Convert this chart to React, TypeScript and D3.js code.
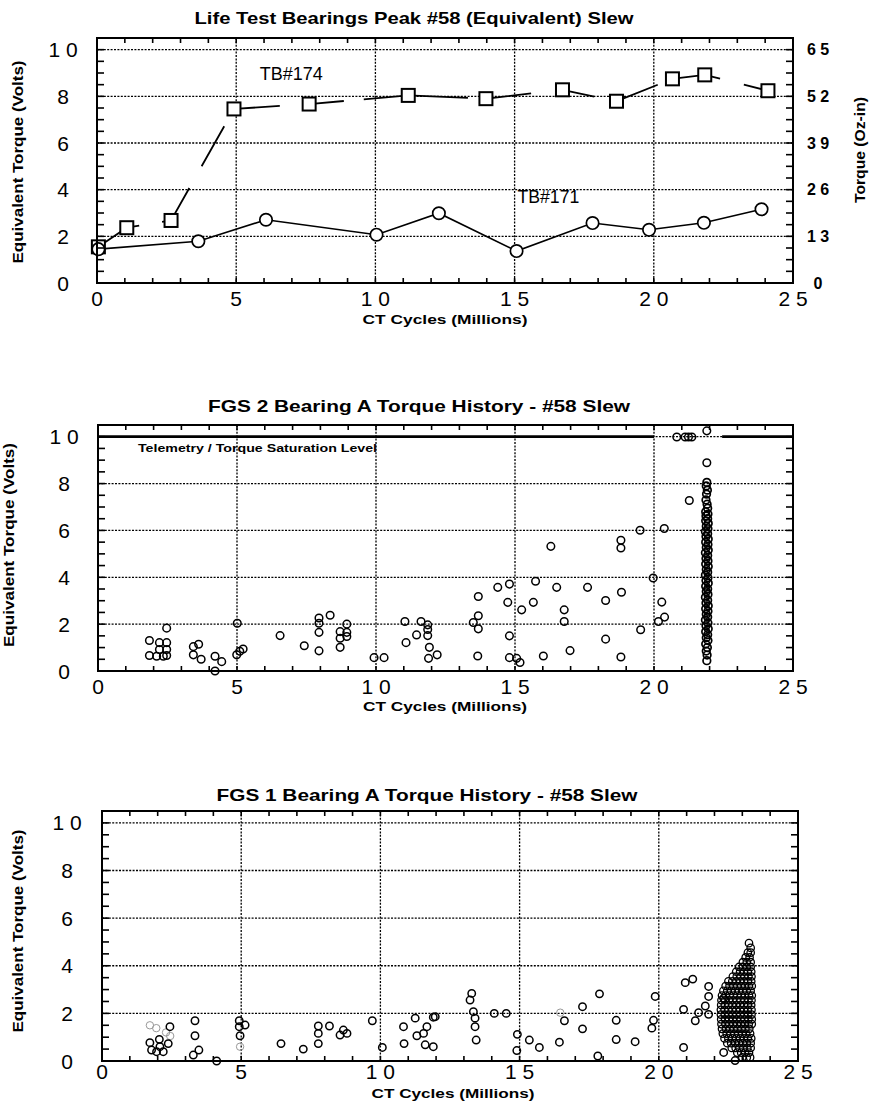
import { useEffect, useRef } from "react";
import { line, range, scaleLinear, select } from "d3";

const FONT = "'Liberation Sans', Arial, Helvetica, sans-serif";

// shared axes
const cycleTicks = [0, 5, 10, 15, 20, 25];
const cycleTickLabels = ["0", "5", "1 0", "1 5", "2 0", "2 5"];
const voltTicks = [0, 2, 4, 6, 8, 10];
const voltTickLabels = ["0", "2", "4", "6", "8", "1 0"];
const ozTickLabels = ["0", "1 3", "2 6", "3 9", "5 2", "6 5"];

// life test bearings (top)
const tb174Cycles = [0.05, 1.07, 2.66, 4.92, 7.62, 11.18, 13.97, 16.72, 18.66, 20.67, 21.83, 24.1];
const tb174Volts = [1.55, 2.37, 2.68, 7.46, 7.67, 8.04, 7.9, 8.28, 7.79, 8.75, 8.92, 8.24];
const tb171Cycles = [0.05, 3.64, 6.07, 10.04, 12.28, 15.07, 17.8, 19.83, 21.8, 23.87];
const tb171Volts = [1.45, 1.79, 2.71, 2.07, 2.99, 1.37, 2.57, 2.28, 2.58, 3.16];

// FGS 2 (middle)
const fgs2Cycles = [
  1.85, 1.85, 2.21, 2.47, 2.21, 2.47, 2.11, 2.35, 2.47, 2.47,
  3.43, 3.62, 3.43, 3.71, 4.21, 4.21, 4.45,
  5.01, 4.99, 5.22, 5.1,
  6.55, 7.42, 7.95, 7.95, 7.95, 7.95, 8.35, 8.71, 8.95, 8.95, 8.71, 8.71, 8.95,
  9.93, 10.29, 11.04, 11.08, 11.46, 11.62, 11.86, 11.86, 11.86, 11.92, 11.89, 12.2,
  13.68, 13.68, 13.5, 13.68, 13.66,
  14.38, 14.8, 14.74, 14.8, 14.8, 15.06, 15.18, 15.24, 15.66, 15.74,
  16.29, 16.5, 16.02, 16.77, 16.77, 16.98, 17.61, 18.26, 18.26,
  18.81, 18.81, 18.83, 18.81, 19.5, 19.52, 19.97, 20.37, 20.28, 20.16, 20.38,
  20.82, 21.12, 21.24, 21.36, 21.27, 21.9, 21.9,
];
const fgs2Volts = [
  1.3, 0.66, 1.21, 1.21, 0.92, 0.92, 0.63, 0.63, 1.83, 0.66,
  1.04, 1.14, 0.69, 0.5, 0.63, 0.0, 0.4,
  2.04, 0.69, 0.94, 0.84,
  1.51, 1.08, 2.26, 2.04, 1.65, 0.86, 2.38, 1.68, 2.0, 1.65, 1.4, 1.01, 1.47,
  0.57, 0.57, 2.11, 1.21, 1.54, 2.11, 1.97, 1.77, 1.51, 1.01, 0.54, 0.69,
  3.18, 2.36, 2.07, 1.8, 0.64,
  3.57, 3.71, 2.93, 1.5, 0.57, 0.54, 0.36, 2.61, 2.93, 3.83,
  5.32, 3.57, 0.64, 2.61, 2.11, 0.87, 3.57, 3.01, 1.36,
  5.58, 5.25, 3.36, 0.6, 6.01, 1.76, 3.97, 6.08, 2.94, 2.11, 2.3,
  9.99, 9.99, 9.99, 9.99, 7.28, 10.25, 8.89,
];
// readings piled up at ~21.9 M cycles
const fgs2ColumnCycles = [
  21.9, 21.88, 21.92, 21.89, 21.87, 21.91, 21.93, 21.86, 21.94, 21.87,
  21.93, 21.86, 21.95, 21.88, 21.94, 21.85, 21.93, 21.87, 21.95, 21.86,
  21.94, 21.88, 21.95, 21.85, 21.93, 21.87, 21.94, 21.86, 21.95, 21.88,
  21.93, 21.85, 21.94, 21.87, 21.95, 21.86, 21.93, 21.88, 21.94, 21.85,
  21.93, 21.87, 21.95, 21.86, 21.94, 21.88, 21.93, 21.85, 21.94, 21.87,
  21.95, 21.86, 21.93, 21.88, 21.94, 21.86, 21.92, 21.88, 21.91, 21.9,
];
const fgs2ColumnVolts = [
  8.05, 7.9, 7.72, 7.55, 7.3, 7.12, 6.95, 6.8, 6.7, 6.62,
  6.5, 6.41, 6.3, 6.18, 6.07, 5.95, 5.86, 5.74, 5.63, 5.5,
  5.4, 5.27, 5.16, 5.05, 4.93, 4.8, 4.7, 4.57, 4.46, 4.33,
  4.22, 4.1, 3.98, 3.86, 3.75, 3.62, 3.5, 3.39, 3.27, 3.15,
  3.02, 2.9, 2.78, 2.66, 2.55, 2.42, 2.3, 2.18, 2.05, 1.93,
  1.8, 1.68, 1.55, 1.42, 1.3, 1.15, 1.0, 0.85, 0.68, 0.44,
];
const saturationVolts = 10;
const saturationRuns = [[0, 20], [22.45, 25]];

// FGS 1 (bottom)
const fgs1Cycles = [
  1.72, 1.78, 1.96, 2.06, 2.08, 2.2, 2.38, 2.44,
  3.34, 3.34, 3.28, 3.48, 4.12,
  4.93, 4.93, 5.14, 4.96,
  6.43, 7.23, 7.77, 7.77, 7.77, 8.17, 8.55, 8.67, 8.8,
  9.71, 10.07, 10.83, 10.85, 11.25, 11.31, 11.55, 11.61, 11.9, 11.9, 11.67, 11.97,
  13.28, 13.22, 13.34, 13.4, 13.4, 13.44, 14.09, 14.52, 14.92, 14.9, 15.35, 15.71,
  16.43, 16.61, 17.26, 17.26, 17.87, 17.81, 18.47, 18.47, 19.15, 19.87, 19.81, 19.75,
  20.89, 20.89, 20.95, 21.22, 21.31, 21.43, 21.67, 21.79, 21.79, 21.79, 22.33, 22.33, 22.74,
];
const fgs1Volts = [
  0.77, 0.46, 0.39, 0.91, 0.6, 0.39, 0.73, 1.44,
  1.69, 1.06, 0.25, 0.46, 0.0,
  1.69, 1.44, 1.51, 1.06,
  0.73, 0.5, 1.47, 1.16, 0.73, 1.47, 1.09, 1.3, 1.16,
  1.69, 0.57, 1.44, 0.73, 1.8, 1.06, 1.16, 0.68, 0.6, 1.84, 1.44, 1.86,
  2.84, 2.56, 2.07, 1.8, 1.44, 0.88, 2.0, 2.0, 1.12, 0.44, 0.88, 0.57,
  0.79, 1.69, 2.28, 1.35, 2.82, 0.21, 1.71, 0.9, 0.81, 2.71, 1.71, 1.38,
  2.17, 0.57, 3.29, 3.44, 1.69, 2.03, 2.31, 3.13, 2.71, 1.96, 2.64, 0.36, 0.02,
];
const fgs1FaintCycles = [1.72, 1.95, 2.3, 2.45, 4.96, 16.46];
const fgs1FaintVolts = [1.5, 1.38, 1.2, 1.05, 0.6, 2.03];
// dense cloud near 22-23 M cycles, one row per torque level
const fgs1ClusterRows: [number, number[]][] = [
  [4.95, [23.24]],
  [4.75, [23.3]],
  [4.55, [23.2, 23.3]],
  [4.35, [23.12, 23.26]],
  [4.15, [23.02, 23.16, 23.3]],
  [3.95, [22.88, 23.02, 23.16, 23.3]],
  [3.75, [22.78, 22.92, 23.06, 23.2, 23.32]],
  [3.55, [22.66, 22.8, 22.94, 23.08, 23.22, 23.33]],
  [3.35, [22.5, 22.64, 22.78, 22.92, 23.06, 23.2, 23.32]],
  [3.15, [22.4, 22.54, 22.68, 22.82, 22.96, 23.1, 23.24, 23.34]],
  [2.95, [22.32, 22.46, 22.6, 22.74, 22.88, 23.02, 23.16, 23.3]],
  [2.75, [22.27, 22.4, 22.54, 22.68, 22.82, 22.96, 23.1, 23.24, 23.34]],
  [2.55, [22.25, 22.38, 22.52, 22.66, 22.8, 22.94, 23.08, 23.22, 23.33]],
  [2.35, [22.24, 22.37, 22.5, 22.64, 22.78, 22.92, 23.06, 23.2, 23.32]],
  [2.15, [22.23, 22.36, 22.5, 22.64, 22.78, 22.92, 23.06, 23.2, 23.33]],
  [1.95, [22.23, 22.37, 22.51, 22.65, 22.79, 22.93, 23.07, 23.21, 23.33]],
  [1.75, [22.24, 22.38, 22.52, 22.66, 22.8, 22.94, 23.08, 23.22, 23.34]],
  [1.55, [22.25, 22.39, 22.53, 22.67, 22.81, 22.95, 23.09, 23.23, 23.34]],
  [1.35, [22.27, 22.41, 22.55, 22.69, 22.83, 22.97, 23.11, 23.25]],
  [1.15, [22.3, 22.44, 22.58, 22.72, 22.86, 23.0, 23.14, 23.28]],
  [0.95, [22.36, 22.5, 22.64, 22.78, 22.92, 23.06, 23.2, 23.32]],
  [0.75, [22.46, 22.6, 22.74, 22.88, 23.02, 23.16, 23.3]],
  [0.55, [22.62, 22.76, 22.9, 23.04, 23.18, 23.3]],
  [0.35, [22.82, 22.96, 23.1, 23.24]],
  [0.15, [23.0, 23.16, 23.28]],
];

// hand-drawn looking long dashes of the TB#174 trace
const tb174Dash = "46.8 23.2 46.3 25 46 20.8 45 23.7 40.5 20 104.4 19.1 44.4 32.8 31.3 27.6 39.5 17.3 46.9 24.5 80";

const zip = (xs: number[], ys: number[]) => xs.map((v, i) => [v, ys[i]]);

function drawPanel(svg: any, box: any, o: any) {
  const x = scaleLinear().domain([0, 25]).range([box.left, box.right]);
  const y = scaleLinear().domain([0, 10.5]).range([box.bottom, box.top]);
  const g = svg.append("g");

  // dotted grid
  g.selectAll(".vgrid")
    .data(cycleTicks.slice(1, -1))
    .join("line")
    .attr("class", "vgrid")
    .attr("x1", (d: number) => x(d)).attr("x2", (d: number) => x(d))
    .attr("y1", box.top).attr("y2", box.bottom)
    .attr("stroke", "#000").attr("stroke-width", 1.3).attr("stroke-dasharray", "2 1.4");
  g.selectAll(".hgrid")
    .data(voltTicks.slice(1))
    .join("line")
    .attr("class", "hgrid")
    .attr("x1", box.left).attr("x2", box.right)
    .attr("y1", (d: number) => y(d)).attr("y2", (d: number) => y(d))
    .attr("stroke", "#000").attr("stroke-width", 1.3).attr("stroke-dasharray", "2 1.4");

  const plot = g.append("g");

  // frame + inward ticks
  const deco = g.append("g").attr("stroke", "#000");
  deco.selectAll(".lt").data(range(0.5, 10.5, 0.5)).join("line")
    .attr("class", "lt")
    .attr("x1", box.left).attr("x2", box.left + 7)
    .attr("y1", (d: number) => y(d)).attr("y2", (d: number) => y(d)).attr("stroke-width", 1.6);
  deco.selectAll(".rt").data(range(0.5, 10.5, 0.5)).join("line")
    .attr("class", "rt")
    .attr("x1", box.right - 7).attr("x2", box.right)
    .attr("y1", (d: number) => y(d)).attr("y2", (d: number) => y(d)).attr("stroke-width", 1.6);
  deco.selectAll(".tt").data(range(1, 25)).join("line")
    .attr("class", "tt")
    .attr("x1", (d: number) => x(d)).attr("x2", (d: number) => x(d))
    .attr("y1", box.top).attr("y2", box.top + 5).attr("stroke-width", 1.6);
  deco.selectAll(".bt").data(range(1, 25)).join("line")
    .attr("class", "bt")
    .attr("x1", (d: number) => x(d)).attr("x2", (d: number) => x(d))
    .attr("y1", box.bottom - 5).attr("y2", box.bottom).attr("stroke-width", 1.6);
  deco.append("rect")
    .attr("x", box.left).attr("y", box.top)
    .attr("width", box.right - box.left).attr("height", box.bottom - box.top)
    .attr("fill", "none").attr("stroke-width", 2);

  // tick labels
  g.selectAll(".xl").data(cycleTicks).join("text")
    .attr("class", "xl")
    .attr("x", (d: number) => x(d)).attr("y", o.xLabelBase)
    .attr("text-anchor", "middle").attr("font-size", 21)
    .attr("font-family", FONT)
    .text((d: number, i: number) => cycleTickLabels[i]);
  g.selectAll(".yl").data(voltTicks).join("text")
    .attr("class", "yl")
    .attr("x", o.yLabelX).attr("y", (d: number) => y(d)).attr("dy", "0.36em")
    .attr("text-anchor", "middle").attr("font-size", 21)
    .attr("font-family", FONT)
    .text((d: number, i: number) => voltTickLabels[i]);

  // titles
  g.append("text")
    .attr("x", o.title.x).attr("y", o.title.y)
    .attr("text-anchor", "middle").attr("font-size", 16.5).attr("font-weight", "bold")
    .attr("font-family", FONT)
    .attr("textLength", o.title.len).attr("lengthAdjust", "spacingAndGlyphs")
    .text(o.title.text);
  g.append("text")
    .attr("x", o.xTitle.x).attr("y", o.xTitle.y)
    .attr("text-anchor", "middle").attr("font-size", 13.5).attr("font-weight", "bold")
    .attr("font-family", FONT)
    .attr("textLength", o.xTitle.len).attr("lengthAdjust", "spacingAndGlyphs")
    .text("CT  Cycles  (Millions)");
  g.append("text")
    .attr("transform", `translate(${o.yTitle.x},${o.yTitle.y}) rotate(-90)`)
    .attr("text-anchor", "middle").attr("dy", "0.36em")
    .attr("font-size", 14).attr("font-weight", "bold")
    .attr("font-family", FONT)
    .attr("textLength", o.yTitle.len).attr("lengthAdjust", "spacingAndGlyphs")
    .text("Equivalent  Torque  (Volts)");

  return { x, y, g, plot };
}

function drawScatter(plot: any, x: any, y: any, pts: number[][], cls: string, r: number, sw: number, color = "#000") {
  plot.selectAll("." + cls)
    .data(pts)
    .join("circle")
    .attr("class", cls)
    .attr("cx", (d: number[]) => x(d[0]))
    .attr("cy", (d: number[]) => y(d[1]))
    .attr("r", r)
    .attr("fill", "none")
    .attr("stroke", color)
    .attr("stroke-width", sw);
}

export default function App() {
  const svgRef = useRef<SVGSVGElement>(null);

  useEffect(() => {
    const svg = select(svgRef.current);
    svg.selectAll("*").remove();

    // ---------- Life test ----------
    const life = drawPanel(svg, { left: 97, right: 793, top: 38, bottom: 283 }, {
      xLabelBase: 306,
      yLabelX: 63,
      title: { x: 414, y: 24, len: 439, text: "Life Test Bearings Peak #58 (Equivalent) Slew" },
      xTitle: { x: 445, y: 324, len: 165 },
      yTitle: { x: 18, y: 162, len: 203 },
    });
    // right axis in Oz-in
    life.g.selectAll(".ozl").data(voltTicks).join("text")
      .attr("class", "ozl")
      .attr("x", 818).attr("y", (d: number) => life.y(d)).attr("dy", "0.36em")
      .attr("text-anchor", "middle").attr("font-size", 16).attr("font-weight", "bold")
      .attr("font-family", FONT)
      .text((d: number, i: number) => ozTickLabels[i]);
    life.g.append("text")
      .attr("transform", "translate(860,150) rotate(-90)")
      .attr("text-anchor", "middle").attr("dy", "0.36em")
      .attr("font-size", 14).attr("font-weight", "bold").attr("font-family", FONT)
      .attr("textLength", 106).attr("lengthAdjust", "spacingAndGlyphs")
      .text("Torque  (Oz-in)");

    const tb174 = zip(tb174Cycles, tb174Volts);
    const tb171 = zip(tb171Cycles, tb171Volts);
    const trace = line<number[]>().x((d) => life.x(d[0])).y((d) => life.y(d[1]));

    life.plot.append("path")
      .attr("d", trace(tb174))
      .attr("fill", "none").attr("stroke", "#000").attr("stroke-width", 1.8)
      .attr("stroke-dasharray", tb174Dash);
    life.plot.append("path")
      .attr("d", trace(tb171))
      .attr("fill", "none").attr("stroke", "#000").attr("stroke-width", 1.6);

    life.plot.selectAll(".sq").data(tb174).join("rect")
      .attr("class", "sq")
      .attr("x", (d: number[]) => life.x(d[0]) - 6.5)
      .attr("y", (d: number[]) => life.y(d[1]) - 6.5)
      .attr("width", 13).attr("height", 13)
      .attr("fill", "#fff").attr("stroke", "#000").attr("stroke-width", 2);
    life.plot.selectAll(".ci").data(tb171).join("circle")
      .attr("class", "ci")
      .attr("cx", (d: number[]) => life.x(d[0]))
      .attr("cy", (d: number[]) => life.y(d[1]))
      .attr("r", 6.2)
      .attr("fill", "#fff").attr("stroke", "#000").attr("stroke-width", 1.7);

    life.g.append("text")
      .attr("x", life.x(5.85)).attr("y", life.y(8.68))
      .attr("font-size", 18).attr("font-family", FONT)
      .attr("textLength", 63).attr("lengthAdjust", "spacingAndGlyphs")
      .text("TB#174");
    life.g.append("text")
      .attr("x", life.x(15.1)).attr("y", life.y(3.45))
      .attr("font-size", 18).attr("font-family", FONT)
      .attr("textLength", 62).attr("lengthAdjust", "spacingAndGlyphs")
      .text("TB#171");

    // ---------- FGS 2 ----------
    const f2 = drawPanel(svg, { left: 98, right: 793, top: 425, bottom: 671 }, {
      xLabelBase: 694,
      yLabelX: 64,
      title: { x: 419, y: 412, len: 422, text: "FGS 2 Bearing A Torque History - #58 Slew" },
      xTitle: { x: 445, y: 711, len: 164 },
      yTitle: { x: 9, y: 545, len: 204 },
    });
    f2.plot.selectAll(".sat").data(saturationRuns).join("line")
      .attr("class", "sat")
      .attr("x1", (d: number[]) => f2.x(d[0])).attr("x2", (d: number[]) => f2.x(d[1]))
      .attr("y1", f2.y(saturationVolts)).attr("y2", f2.y(saturationVolts))
      .attr("stroke", "#000").attr("stroke-width", 2.8);
    f2.g.append("text")
      .attr("x", 138).attr("y", 452)
      .attr("font-size", 11).attr("font-weight", "bold").attr("font-family", FONT)
      .attr("textLength", 239).attr("lengthAdjust", "spacingAndGlyphs")
      .text("Telemetry  /  Torque  Saturation  Level");
    drawScatter(f2.plot, f2.x, f2.y, zip(fgs2Cycles, fgs2Volts), "p2", 3.8, 1.5);
    drawScatter(f2.plot, f2.x, f2.y, zip(fgs2ColumnCycles, fgs2ColumnVolts), "c2", 3.8, 1.7);

    // ---------- FGS 1 ----------
    const f1 = drawPanel(svg, { left: 102, right: 798, top: 811, bottom: 1061 }, {
      xLabelBase: 1079,
      yLabelX: 67,
      title: { x: 427, y: 801, len: 421, text: "FGS 1 Bearing A Torque History - #58 Slew" },
      xTitle: { x: 453, y: 1098, len: 163 },
      yTitle: { x: 17.5, y: 931, len: 203 },
    });
    drawScatter(f1.plot, f1.x, f1.y, zip(fgs1FaintCycles, fgs1FaintVolts), "f1f", 3.7, 1, "#999");
    drawScatter(f1.plot, f1.x, f1.y, zip(fgs1Cycles, fgs1Volts), "p1", 3.7, 1.5);
    const cluster = fgs1ClusterRows.flatMap(([v, cs]) => cs.map((c) => [c, v]));
    drawScatter(f1.plot, f1.x, f1.y, cluster, "c1", 3.7, 1.3);
  }, []);

  return (
    <svg
      ref={svgRef}
      width={871}
      height={1106}
      style={{ position: "absolute", left: 0, top: 0, background: "#fff" }}
    />
  );
}
